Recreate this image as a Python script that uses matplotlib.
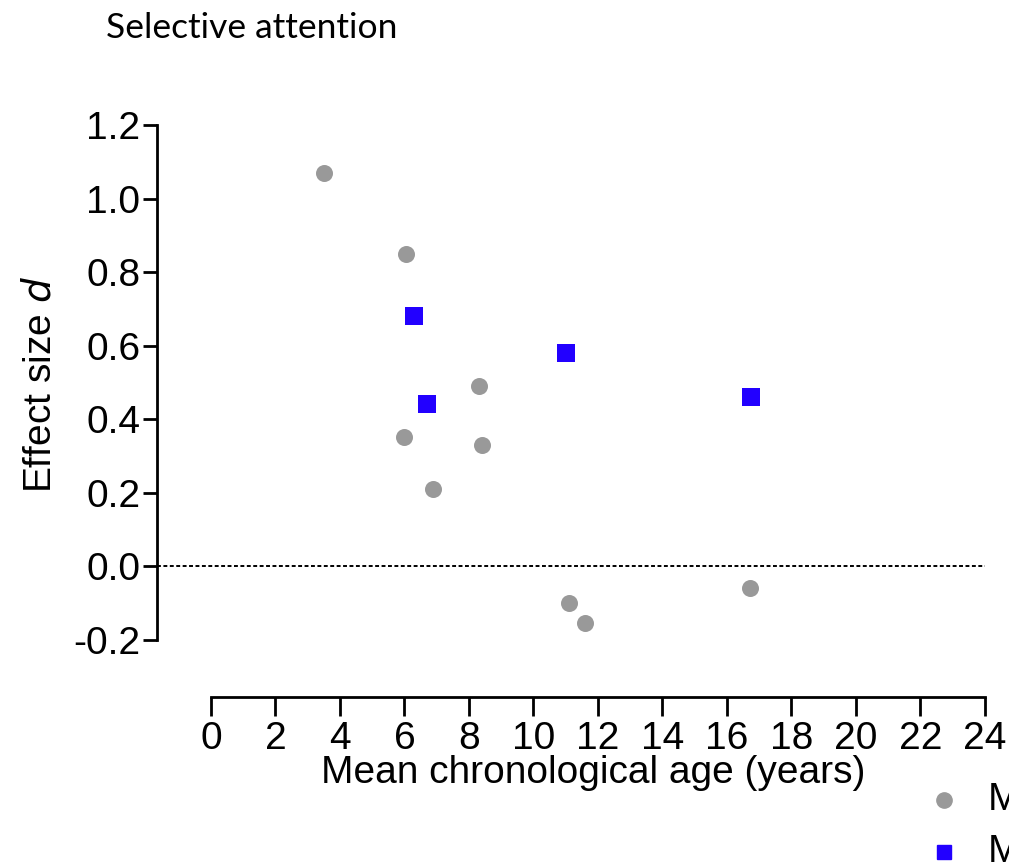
import matplotlib
matplotlib.use("Agg")
from matplotlib import pyplot as plt
from matplotlib.lines import Line2D

# grey circles (first group)
grey_age = [3.5, 6.05, 6.0, 6.9, 8.3, 8.4, 11.1, 11.6, 16.7]
grey_d = [1.07, 0.85, 0.35, 0.21, 0.49, 0.33, -0.10, -0.155, -0.06]
# blue squares (second group)
blue_age = [6.3, 6.7, 11.0, 16.75]
blue_d = [0.68, 0.44, 0.58, 0.46]

xticks = list(range(0, 25, 2))
yticks = [-0.2, 0.0, 0.2, 0.4, 0.6, 0.8, 1.0, 1.2]
legend_labels = ['M', 'M']

GREY = '#999999'
BLUE = '#2200ff'

plt.rcParams['font.family'] = ['Liberation Sans', 'DejaVu Sans']

fig = plt.figure(figsize=(10.09, 8.68), dpi=100)
ax = fig.add_axes([157 / 1009, 1 - 697 / 868, (985 - 157) / 1009, (697 - 125) / 868])

ax.scatter(grey_age, grey_d, s=150, marker='o', color=GREY, linewidths=0, zorder=3)
ax.scatter(blue_age, blue_d, s=150, marker='s', color=BLUE, linewidths=0, zorder=3)
ax.axhline(0, color='black', linestyle=(0, (2, 1.3)), linewidth=1.4, zorder=1)

ax.set_xlim(-1.67, 24)
ax.set_ylim(-0.356, 1.2)
ax.spines['top'].set_visible(False)
ax.spines['right'].set_visible(False)
ax.spines['left'].set_bounds(-0.2, 1.2)
ax.spines['bottom'].set_bounds(0, 24)
for s in ['left', 'bottom']:
    ax.spines[s].set_linewidth(2)
ax.set_xticks(xticks)
ax.set_yticks(yticks)
ax.set_yticklabels([f"{v:.1f}" for v in yticks])
ax.tick_params(axis='y', length=10, width=2, labelsize=28, pad=2)
ax.tick_params(axis='x', length=14, width=2, labelsize=28, pad=3)

ax.set_xlabel('Mean chronological age (years)', fontsize=28)
ax.xaxis.set_label_coords((593 - 157) / 828, -(773 - 697) / 572, transform=ax.transAxes)
ax.set_ylabel('Effect size $\\mathit{d}$', fontsize=28)
ax.yaxis.set_label_coords(-(157 - 40) / 828, (697 - 385) / 572, transform=ax.transAxes)
ax.xaxis.label.set_va('center')
ax.yaxis.label.set_va('center')

fig.text(106 / 1009, 1 - 28 / 868, 'Selective attention', fontsize=25.5,
         family=['Lato', 'DejaVu Sans'], va='center', ha='left')

# legend, cut off at the right edge as in the source
for yy, mk, col, lab in [(800, 'o', GREY, legend_labels[0]), (852, 's', BLUE, legend_labels[1])]:
    fig.add_artist(Line2D([944 / 1009], [1 - yy / 868], marker=mk, color=col,
                          markersize=11 if mk == 'o' else 10, linestyle='none',
                          transform=fig.transFigure))
    fig.text(988 / 1009, 1 - yy / 868, lab, fontsize=28, va='center', ha='left')

fig.savefig('out.png', dpi=100)
